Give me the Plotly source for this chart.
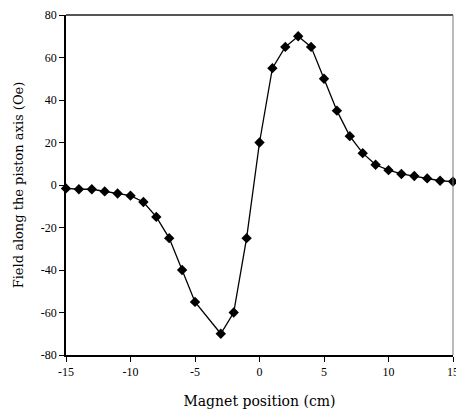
import plotly.graph_objects as go

positions = [-15, -14, -13, -12, -11, -10, -9, -8, -7, -6, -5, -3, -2, -1,
             0, 1, 2, 3, 4, 5, 6, 7, 8, 9, 10, 11, 12, 13, 14, 15]
field = [-1.6, -2, -2, -3, -4, -5, -8, -15, -25, -40, -55, -70, -60, -25,
         20, 55, 65, 70, 65, 50, 35, 23, 15, 9.5, 7, 5.2, 4.2, 3.1, 2, 1.6]
x_ticks = [-15, -10, -5, 0, 5, 10, 15]
y_ticks = [-80, -60, -40, -20, 0, 20, 40, 60, 80]

font = "Liberation Serif"

fig = go.Figure()
fig.add_trace(go.Scatter(
    x=positions, y=field, mode="lines+markers",
    line=dict(color="black", width=1.3),
    marker=dict(symbol="diamond", size=8, color="black"),
    cliponaxis=False,
))

fig.update_layout(
    width=456, height=411,
    margin=dict(l=66, r=3, t=15, b=56),
    paper_bgcolor="white", plot_bgcolor="white",
    showlegend=False,
    font=dict(family=font, color="black"),
    xaxis=dict(
        range=[-15, 15], tickvals=x_ticks, ticktext=[str(v) for v in x_ticks],
        showgrid=False, zeroline=False, showline=True, linecolor="black", linewidth=1.5,
        ticks="outside", ticklen=5, tickwidth=1, tickcolor="black",
        tickfont=dict(size=12, family=font), ticklabeloverflow="allow",
        automargin=False,
        title=dict(text="Magnet position (cm)", font=dict(size=14, family="DejaVu Serif"), standoff=18),
    ),
    yaxis=dict(
        range=[-80, 80], tickvals=y_ticks, ticktext=[str(v) for v in y_ticks],
        showgrid=False, zeroline=False, showline=True, linecolor="black", linewidth=1.5,
        ticks="outside", ticklen=5, tickwidth=1, tickcolor="black",
        tickfont=dict(size=12, family=font),
        automargin=False,
        title=dict(text="Field along the piston axis (Oe)", font=dict(size=13, family="DejaVu Serif"), standoff=14),
    ),
    shapes=[
        dict(type="line", xref="paper", yref="paper", x0=0, x1=1, y0=1, y1=1,
             line=dict(color="#555555", width=2)),
        dict(type="line", xref="paper", yref="paper", x0=1, x1=1, y0=0, y1=1,
             line=dict(color="#777777", width=1)),
    ],
)

fig.write_html("out.html")
